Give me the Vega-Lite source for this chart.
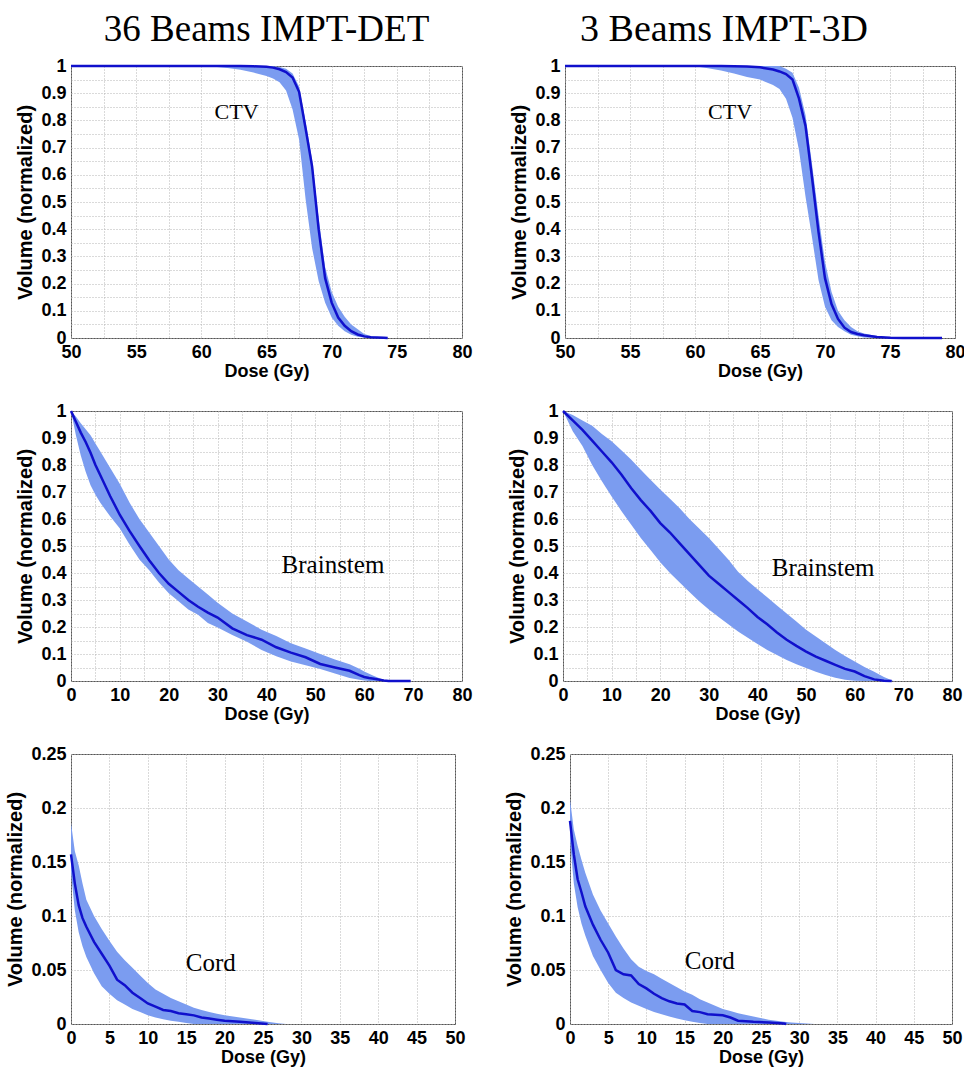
{
  "$schema": "https://vega.github.io/schema/vega-lite/v6.json",
  "background": "white",
  "padding": {"left": 5, "top": 10, "right": 5, "bottom": 2},
  "spacing": 20,
  "config": {
    "view": {"stroke": "#555555", "strokeWidth": 1},
    "axis": {
      "labelFont": "Liberation Sans", "labelFontWeight": "bold", "labelFontSize": 18, "labelColor": "black",
      "titleFont": "Liberation Sans", "titleFontWeight": "bold", "titleFontSize": 18, "titleColor": "black",
      "ticks": false, "domain": false, "grid": true, "gridColor": "#b5b5b5", "gridDash": [1, 2], "gridWidth": 1,
      "labelOverlap": false, "labelBound": false, "labelFlush": false, "labelPadding": 5
    },
    "axisX": {"titlePadding": 1},
    "axisY": {"titlePadding": 5, "titleFontSize": 20},
    "title": {"font": "Liberation Serif", "fontSize": 37, "fontWeight": "normal", "color": "black", "anchor": "middle", "offset": 8}
  },
  "datasets": {
    "ctv36": [
      {"dose": 50, "lo": 1, "mean": 1, "hi": 1},
      {"dose": 55, "lo": 1, "mean": 1, "hi": 1},
      {"dose": 60, "lo": 1, "mean": 1, "hi": 1},
      {"dose": 61, "lo": 0.997, "mean": 1, "hi": 1},
      {"dose": 62, "lo": 0.993, "mean": 1, "hi": 1},
      {"dose": 63, "lo": 0.986, "mean": 1, "hi": 1},
      {"dose": 64, "lo": 0.976, "mean": 0.999, "hi": 1},
      {"dose": 65, "lo": 0.963, "mean": 0.997, "hi": 1},
      {"dose": 65.5, "lo": 0.954, "mean": 0.994, "hi": 0.999},
      {"dose": 66, "lo": 0.94, "mean": 0.988, "hi": 0.996},
      {"dose": 66.5, "lo": 0.91, "mean": 0.978, "hi": 0.99},
      {"dose": 67, "lo": 0.84, "mean": 0.958, "hi": 0.972},
      {"dose": 67.5, "lo": 0.73, "mean": 0.905, "hi": 0.925},
      {"dose": 68, "lo": 0.51, "mean": 0.77, "hi": 0.795},
      {"dose": 68.5, "lo": 0.33, "mean": 0.63, "hi": 0.655},
      {"dose": 69, "lo": 0.21, "mean": 0.4, "hi": 0.44},
      {"dose": 69.5, "lo": 0.13, "mean": 0.22, "hi": 0.26},
      {"dose": 70, "lo": 0.075, "mean": 0.13, "hi": 0.17},
      {"dose": 70.5, "lo": 0.045, "mean": 0.075, "hi": 0.115},
      {"dose": 71, "lo": 0.025, "mean": 0.045, "hi": 0.078},
      {"dose": 71.5, "lo": 0.012, "mean": 0.025, "hi": 0.05},
      {"dose": 72, "lo": 0.005, "mean": 0.013, "hi": 0.032},
      {"dose": 72.5, "lo": 0.002, "mean": 0.006, "hi": 0.015},
      {"dose": 73, "lo": 0, "mean": 0.003, "hi": 0.007},
      {"dose": 74, "lo": 0, "mean": 0.0005, "hi": 0.001},
      {"dose": 74.3, "lo": 0, "mean": 0, "hi": 0}
    ],
    "ctv3": [
      {"dose": 50, "lo": 1, "mean": 1, "hi": 1},
      {"dose": 55, "lo": 1, "mean": 1, "hi": 1},
      {"dose": 60, "lo": 0.999, "mean": 1, "hi": 1},
      {"dose": 61, "lo": 0.992, "mean": 1, "hi": 1},
      {"dose": 62, "lo": 0.983, "mean": 1, "hi": 1},
      {"dose": 63, "lo": 0.972, "mean": 0.999, "hi": 1},
      {"dose": 64, "lo": 0.96, "mean": 0.998, "hi": 1},
      {"dose": 65, "lo": 0.95, "mean": 0.995, "hi": 1},
      {"dose": 66, "lo": 0.93, "mean": 0.987, "hi": 1},
      {"dose": 66.5, "lo": 0.915, "mean": 0.98, "hi": 1},
      {"dose": 67, "lo": 0.88, "mean": 0.97, "hi": 0.99},
      {"dose": 67.5, "lo": 0.81, "mean": 0.95, "hi": 0.975},
      {"dose": 68, "lo": 0.69, "mean": 0.88, "hi": 0.92},
      {"dose": 68.5, "lo": 0.52, "mean": 0.78, "hi": 0.82},
      {"dose": 69, "lo": 0.37, "mean": 0.59, "hi": 0.64},
      {"dose": 69.5, "lo": 0.213, "mean": 0.39, "hi": 0.45},
      {"dose": 70, "lo": 0.115, "mean": 0.22, "hi": 0.28},
      {"dose": 70.5, "lo": 0.065, "mean": 0.125, "hi": 0.17},
      {"dose": 71, "lo": 0.04, "mean": 0.07, "hi": 0.1},
      {"dose": 71.5, "lo": 0.025, "mean": 0.038, "hi": 0.065},
      {"dose": 72, "lo": 0.012, "mean": 0.022, "hi": 0.04},
      {"dose": 72.5, "lo": 0.006, "mean": 0.015, "hi": 0.025},
      {"dose": 73, "lo": 0.002, "mean": 0.01, "hi": 0.017},
      {"dose": 74, "lo": 0, "mean": 0.004, "hi": 0.007},
      {"dose": 75, "lo": 0, "mean": 0.001, "hi": 0.002},
      {"dose": 76, "lo": 0, "mean": 0, "hi": 0},
      {"dose": 79, "lo": 0, "mean": 0, "hi": 0}
    ],
    "bs36": [
      {"dose": 0, "lo": 1, "mean": 1, "hi": 1},
      {"dose": 1, "lo": 0.91, "mean": 0.96, "hi": 0.98},
      {"dose": 2, "lo": 0.835, "mean": 0.92, "hi": 0.955},
      {"dose": 3, "lo": 0.775, "mean": 0.885, "hi": 0.932},
      {"dose": 4, "lo": 0.725, "mean": 0.845, "hi": 0.91},
      {"dose": 5, "lo": 0.69, "mean": 0.8, "hi": 0.88},
      {"dose": 6, "lo": 0.66, "mean": 0.762, "hi": 0.85},
      {"dose": 8, "lo": 0.61, "mean": 0.685, "hi": 0.79},
      {"dose": 10, "lo": 0.565, "mean": 0.615, "hi": 0.73},
      {"dose": 12, "lo": 0.505, "mean": 0.555, "hi": 0.66},
      {"dose": 14, "lo": 0.45, "mean": 0.5, "hi": 0.6},
      {"dose": 16, "lo": 0.41, "mean": 0.447, "hi": 0.55},
      {"dose": 18, "lo": 0.365, "mean": 0.4, "hi": 0.5},
      {"dose": 20, "lo": 0.325, "mean": 0.36, "hi": 0.45},
      {"dose": 22, "lo": 0.295, "mean": 0.33, "hi": 0.41},
      {"dose": 24, "lo": 0.265, "mean": 0.3, "hi": 0.38},
      {"dose": 26, "lo": 0.245, "mean": 0.275, "hi": 0.35},
      {"dose": 28, "lo": 0.215, "mean": 0.253, "hi": 0.32},
      {"dose": 30, "lo": 0.198, "mean": 0.235, "hi": 0.29},
      {"dose": 33, "lo": 0.17, "mean": 0.195, "hi": 0.25},
      {"dose": 36, "lo": 0.145, "mean": 0.17, "hi": 0.22},
      {"dose": 39, "lo": 0.115, "mean": 0.153, "hi": 0.19},
      {"dose": 42, "lo": 0.092, "mean": 0.125, "hi": 0.167},
      {"dose": 45, "lo": 0.072, "mean": 0.105, "hi": 0.14},
      {"dose": 48, "lo": 0.058, "mean": 0.088, "hi": 0.12},
      {"dose": 51, "lo": 0.044, "mean": 0.063, "hi": 0.1},
      {"dose": 54, "lo": 0.028, "mean": 0.05, "hi": 0.08},
      {"dose": 57, "lo": 0.011, "mean": 0.038, "hi": 0.062},
      {"dose": 59, "lo": 0.005, "mean": 0.022, "hi": 0.045},
      {"dose": 60, "lo": 0.002, "mean": 0.015, "hi": 0.035},
      {"dose": 61, "lo": 0, "mean": 0.011, "hi": 0.027},
      {"dose": 62, "lo": 0, "mean": 0.008, "hi": 0.0185},
      {"dose": 64, "lo": 0, "mean": 0.002, "hi": 0.004},
      {"dose": 65, "lo": 0, "mean": 0, "hi": 0},
      {"dose": 69.5, "lo": 0, "mean": 0, "hi": 0}
    ],
    "bs3": [
      {"dose": 0, "lo": 1, "mean": 1, "hi": 1},
      {"dose": 2, "lo": 0.925, "mean": 0.965, "hi": 0.985},
      {"dose": 4, "lo": 0.87, "mean": 0.93, "hi": 0.965},
      {"dose": 6, "lo": 0.8, "mean": 0.89, "hi": 0.945},
      {"dose": 8, "lo": 0.74, "mean": 0.85, "hi": 0.915},
      {"dose": 10, "lo": 0.683, "mean": 0.81, "hi": 0.888},
      {"dose": 12, "lo": 0.63, "mean": 0.765, "hi": 0.855},
      {"dose": 14, "lo": 0.58, "mean": 0.715, "hi": 0.82},
      {"dose": 16, "lo": 0.53, "mean": 0.67, "hi": 0.782},
      {"dose": 18, "lo": 0.485, "mean": 0.63, "hi": 0.745},
      {"dose": 20, "lo": 0.44, "mean": 0.585, "hi": 0.709},
      {"dose": 22, "lo": 0.4, "mean": 0.55, "hi": 0.675},
      {"dose": 24, "lo": 0.365, "mean": 0.51, "hi": 0.64},
      {"dose": 26, "lo": 0.33, "mean": 0.47, "hi": 0.6},
      {"dose": 28, "lo": 0.295, "mean": 0.43, "hi": 0.565},
      {"dose": 30, "lo": 0.265, "mean": 0.39, "hi": 0.53},
      {"dose": 32, "lo": 0.237, "mean": 0.36, "hi": 0.49},
      {"dose": 34, "lo": 0.21, "mean": 0.33, "hi": 0.45},
      {"dose": 36, "lo": 0.183, "mean": 0.3, "hi": 0.405},
      {"dose": 38, "lo": 0.16, "mean": 0.27, "hi": 0.37},
      {"dose": 40, "lo": 0.137, "mean": 0.237, "hi": 0.34},
      {"dose": 42, "lo": 0.115, "mean": 0.21, "hi": 0.31},
      {"dose": 44, "lo": 0.096, "mean": 0.18, "hi": 0.28},
      {"dose": 46, "lo": 0.078, "mean": 0.153, "hi": 0.25},
      {"dose": 48, "lo": 0.062, "mean": 0.13, "hi": 0.22},
      {"dose": 50, "lo": 0.048, "mean": 0.109, "hi": 0.19},
      {"dose": 52, "lo": 0.034, "mean": 0.09, "hi": 0.165},
      {"dose": 54, "lo": 0.022, "mean": 0.075, "hi": 0.14},
      {"dose": 56, "lo": 0.012, "mean": 0.06, "hi": 0.115},
      {"dose": 58, "lo": 0.005, "mean": 0.045, "hi": 0.093},
      {"dose": 60, "lo": 0.001, "mean": 0.035, "hi": 0.072},
      {"dose": 62, "lo": 0, "mean": 0.018, "hi": 0.052},
      {"dose": 64, "lo": 0, "mean": 0.006, "hi": 0.034},
      {"dose": 66, "lo": 0, "mean": 0.001, "hi": 0.015},
      {"dose": 67.6, "lo": 0, "mean": 0, "hi": 0.003},
      {"dose": 68, "lo": 0, "mean": null, "hi": 0}
    ],
    "cord36": [
      {"dose": 0, "lo": 0.14, "mean": 0.157, "hi": 0.186},
      {"dose": 0.5, "lo": 0.105, "mean": 0.13, "hi": 0.16},
      {"dose": 1, "lo": 0.085, "mean": 0.11, "hi": 0.147},
      {"dose": 1.5, "lo": 0.072, "mean": 0.098, "hi": 0.13},
      {"dose": 2, "lo": 0.062, "mean": 0.09, "hi": 0.115},
      {"dose": 3, "lo": 0.047, "mean": 0.076, "hi": 0.1},
      {"dose": 4, "lo": 0.035, "mean": 0.065, "hi": 0.088},
      {"dose": 5, "lo": 0.028, "mean": 0.054, "hi": 0.077},
      {"dose": 6, "lo": 0.022, "mean": 0.041, "hi": 0.067},
      {"dose": 7, "lo": 0.018, "mean": 0.036, "hi": 0.059},
      {"dose": 8, "lo": 0.014, "mean": 0.029, "hi": 0.052},
      {"dose": 9, "lo": 0.011, "mean": 0.024, "hi": 0.045},
      {"dose": 10, "lo": 0.008, "mean": 0.019, "hi": 0.038},
      {"dose": 11, "lo": 0.006, "mean": 0.016, "hi": 0.032},
      {"dose": 12, "lo": 0.0045, "mean": 0.013, "hi": 0.028},
      {"dose": 13, "lo": 0.003, "mean": 0.012, "hi": 0.024},
      {"dose": 14, "lo": 0.002, "mean": 0.01, "hi": 0.021},
      {"dose": 15, "lo": 0.001, "mean": 0.009, "hi": 0.018},
      {"dose": 16, "lo": 0, "mean": 0.008, "hi": 0.015},
      {"dose": 17, "lo": 0, "mean": 0.006, "hi": 0.013},
      {"dose": 18, "lo": 0, "mean": 0.005, "hi": 0.011},
      {"dose": 19, "lo": 0, "mean": 0.004, "hi": 0.0095},
      {"dose": 20, "lo": 0, "mean": 0.003, "hi": 0.008},
      {"dose": 22, "lo": 0, "mean": 0.002, "hi": 0.006},
      {"dose": 24, "lo": 0, "mean": 0.001, "hi": 0.004},
      {"dose": 25.6, "lo": 0, "mean": 0, "hi": 0.002},
      {"dose": 27, "lo": 0, "mean": null, "hi": 0.0008},
      {"dose": 28, "lo": 0, "mean": null, "hi": 0}
    ],
    "cord3": [
      {"dose": 0, "lo": 0.17, "mean": 0.188, "hi": 0.208},
      {"dose": 0.5, "lo": 0.13, "mean": 0.157, "hi": 0.18},
      {"dose": 1, "lo": 0.108, "mean": 0.134, "hi": 0.165},
      {"dose": 1.5, "lo": 0.093, "mean": 0.122, "hi": 0.152},
      {"dose": 2, "lo": 0.082, "mean": 0.109, "hi": 0.14},
      {"dose": 3, "lo": 0.063, "mean": 0.092, "hi": 0.12},
      {"dose": 4, "lo": 0.05, "mean": 0.078, "hi": 0.105},
      {"dose": 5, "lo": 0.038, "mean": 0.066, "hi": 0.093},
      {"dose": 6, "lo": 0.029, "mean": 0.05, "hi": 0.081},
      {"dose": 7, "lo": 0.024, "mean": 0.046, "hi": 0.07},
      {"dose": 8, "lo": 0.02, "mean": 0.045, "hi": 0.06},
      {"dose": 9, "lo": 0.017, "mean": 0.037, "hi": 0.053},
      {"dose": 10, "lo": 0.014, "mean": 0.033, "hi": 0.049},
      {"dose": 11, "lo": 0.011, "mean": 0.028, "hi": 0.046},
      {"dose": 12, "lo": 0.009, "mean": 0.024, "hi": 0.042},
      {"dose": 13, "lo": 0.007, "mean": 0.021, "hi": 0.038},
      {"dose": 14, "lo": 0.005, "mean": 0.019, "hi": 0.034},
      {"dose": 15, "lo": 0.0035, "mean": 0.018, "hi": 0.03},
      {"dose": 16, "lo": 0.002, "mean": 0.012, "hi": 0.027},
      {"dose": 17, "lo": 0.001, "mean": 0.011, "hi": 0.023},
      {"dose": 18, "lo": 0, "mean": 0.009, "hi": 0.02},
      {"dose": 19, "lo": 0, "mean": 0.0085, "hi": 0.017},
      {"dose": 20, "lo": 0, "mean": 0.008, "hi": 0.014},
      {"dose": 21, "lo": 0, "mean": 0.006, "hi": 0.012},
      {"dose": 22, "lo": 0, "mean": 0.003, "hi": 0.01},
      {"dose": 24, "lo": 0, "mean": 0.002, "hi": 0.007},
      {"dose": 26, "lo": 0, "mean": 0.0015, "hi": 0.004},
      {"dose": 28, "lo": 0, "mean": 0.0005, "hi": 0.002},
      {"dose": 28.3, "lo": 0, "mean": 0, "hi": 0.0018},
      {"dose": 29, "lo": 0, "mean": null, "hi": 0.0015},
      {"dose": 31, "lo": 0, "mean": null, "hi": 0.0005},
      {"dose": 32, "lo": 0, "mean": null, "hi": 0}
    ]
  },
  "vconcat": [
    {
      "spacing": 36,
      "hconcat": [
        {
          "title": {"text": "36 Beams IMPT-DET"},
          "width": 391, "height": 272,
          "layer": [
            {
              "data": {"name": "ctv36"},
              "mark": {"type": "area", "color": "#7b9cf0", "opacity": 1},
              "encoding": {
                "x": {"field": "dose", "type": "quantitative", "title": "Dose (Gy)", "scale": {"domain": [50, 80], "nice": false, "zero": false},
                  "axis": {"labelOverlap": false, "values": [50, 52.5, 55, 57.5, 60, 62.5, 65, 67.5, 70, 72.5, 75, 77.5, 80], "labelExpr": "datum.value % 5 == 0 ? '' + datum.value : ''"}},
                "y": {"field": "lo", "type": "quantitative", "title": "Volume (normalized)", "scale": {"domain": [0, 1], "nice": false},
                  "axis": {"labelOverlap": false, "values": [0, 0.05, 0.1, 0.15, 0.2, 0.25, 0.3, 0.35, 0.4, 0.45, 0.5, 0.55, 0.6, 0.65, 0.7, 0.75, 0.8, 0.85, 0.9, 0.95, 1], "labelExpr": "round(datum.value * 100) % 10 == 0 ? format(datum.value, '~g') : ''"}},
                "y2": {"field": "hi"}
              }
            },
            {
              "data": {"name": "ctv36"},
              "mark": {"type": "line", "color": "#1010cc", "strokeWidth": 2.5},
              "encoding": {
                "x": {"field": "dose", "type": "quantitative", "title": "Dose (Gy)", "scale": {"domain": [50, 80], "nice": false, "zero": false},
                  "axis": {"labelOverlap": false, "values": [50, 52.5, 55, 57.5, 60, 62.5, 65, 67.5, 70, 72.5, 75, 77.5, 80], "labelExpr": "datum.value % 5 == 0 ? '' + datum.value : ''"}},
                "y": {"field": "mean", "type": "quantitative", "title": "Volume (normalized)", "scale": {"domain": [0, 1], "nice": false},
                  "axis": {"labelOverlap": false, "values": [0, 0.05, 0.1, 0.15, 0.2, 0.25, 0.3, 0.35, 0.4, 0.45, 0.5, 0.55, 0.6, 0.65, 0.7, 0.75, 0.8, 0.85, 0.9, 0.95, 1], "labelExpr": "round(datum.value * 100) % 10 == 0 ? format(datum.value, '~g') : ''"}}
              }
            },
            {
              "data": {"values": [{"label": "CTV", "x": 62.7, "y": 0.83}]},
              "mark": {"type": "text", "font": "Liberation Serif", "fontSize": 22, "color": "black", "align": "center", "baseline": "middle"},
              "encoding": {
                "x": {"field": "x", "type": "quantitative", "title": "Dose (Gy)", "scale": {"domain": [50, 80], "nice": false, "zero": false},
                  "axis": {"labelOverlap": false, "values": [50, 52.5, 55, 57.5, 60, 62.5, 65, 67.5, 70, 72.5, 75, 77.5, 80], "labelExpr": "datum.value % 5 == 0 ? '' + datum.value : ''"}},
                "y": {"field": "y", "type": "quantitative", "title": "Volume (normalized)", "scale": {"domain": [0, 1], "nice": false},
                  "axis": {"labelOverlap": false, "values": [0, 0.05, 0.1, 0.15, 0.2, 0.25, 0.3, 0.35, 0.4, 0.45, 0.5, 0.55, 0.6, 0.65, 0.7, 0.75, 0.8, 0.85, 0.9, 0.95, 1], "labelExpr": "round(datum.value * 100) % 10 == 0 ? format(datum.value, '~g') : ''"}},
                "text": {"field": "label"}
              }
            }
          ]
        },
        {
          "title": {"text": "3 Beams IMPT-3D", "dx": -36, "fontSize": 38},
          "width": 390, "height": 272,
          "layer": [
            {
              "data": {"name": "ctv3"},
              "mark": {"type": "area", "color": "#7b9cf0", "opacity": 1},
              "encoding": {
                "x": {"field": "dose", "type": "quantitative", "title": "Dose (Gy)", "scale": {"domain": [50, 80], "nice": false, "zero": false},
                  "axis": {"labelOverlap": false, "values": [50, 52.5, 55, 57.5, 60, 62.5, 65, 67.5, 70, 72.5, 75, 77.5, 80], "labelExpr": "datum.value % 5 == 0 ? '' + datum.value : ''"}},
                "y": {"field": "lo", "type": "quantitative", "title": "Volume (normalized)", "scale": {"domain": [0, 1], "nice": false},
                  "axis": {"labelOverlap": false, "values": [0, 0.05, 0.1, 0.15, 0.2, 0.25, 0.3, 0.35, 0.4, 0.45, 0.5, 0.55, 0.6, 0.65, 0.7, 0.75, 0.8, 0.85, 0.9, 0.95, 1], "labelExpr": "round(datum.value * 100) % 10 == 0 ? format(datum.value, '~g') : ''"}},
                "y2": {"field": "hi"}
              }
            },
            {
              "data": {"name": "ctv3"},
              "mark": {"type": "line", "color": "#1010cc", "strokeWidth": 2.5},
              "encoding": {
                "x": {"field": "dose", "type": "quantitative", "title": "Dose (Gy)", "scale": {"domain": [50, 80], "nice": false, "zero": false},
                  "axis": {"labelOverlap": false, "values": [50, 52.5, 55, 57.5, 60, 62.5, 65, 67.5, 70, 72.5, 75, 77.5, 80], "labelExpr": "datum.value % 5 == 0 ? '' + datum.value : ''"}},
                "y": {"field": "mean", "type": "quantitative", "title": "Volume (normalized)", "scale": {"domain": [0, 1], "nice": false},
                  "axis": {"labelOverlap": false, "values": [0, 0.05, 0.1, 0.15, 0.2, 0.25, 0.3, 0.35, 0.4, 0.45, 0.5, 0.55, 0.6, 0.65, 0.7, 0.75, 0.8, 0.85, 0.9, 0.95, 1], "labelExpr": "round(datum.value * 100) % 10 == 0 ? format(datum.value, '~g') : ''"}}
              }
            },
            {
              "data": {"values": [{"label": "CTV", "x": 62.7, "y": 0.83}]},
              "mark": {"type": "text", "font": "Liberation Serif", "fontSize": 22, "color": "black", "align": "center", "baseline": "middle"},
              "encoding": {
                "x": {"field": "x", "type": "quantitative", "title": "Dose (Gy)", "scale": {"domain": [50, 80], "nice": false, "zero": false},
                  "axis": {"labelOverlap": false, "values": [50, 52.5, 55, 57.5, 60, 62.5, 65, 67.5, 70, 72.5, 75, 77.5, 80], "labelExpr": "datum.value % 5 == 0 ? '' + datum.value : ''"}},
                "y": {"field": "y", "type": "quantitative", "title": "Volume (normalized)", "scale": {"domain": [0, 1], "nice": false},
                  "axis": {"labelOverlap": false, "values": [0, 0.05, 0.1, 0.15, 0.2, 0.25, 0.3, 0.35, 0.4, 0.45, 0.5, 0.55, 0.6, 0.65, 0.7, 0.75, 0.8, 0.85, 0.9, 0.95, 1], "labelExpr": "round(datum.value * 100) % 10 == 0 ? format(datum.value, '~g') : ''"}},
                "text": {"field": "label"}
              }
            }
          ]
        }
      ]
    },
    {
      "spacing": 34,
      "hconcat": [
        {
          "width": 391, "height": 270,
          "layer": [
            {
              "data": {"name": "bs36"},
              "mark": {"type": "area", "color": "#7b9cf0", "opacity": 1},
              "encoding": {
                "x": {"field": "dose", "type": "quantitative", "title": "Dose (Gy)", "scale": {"domain": [0, 80], "nice": false},
                  "axis": {"labelOverlap": false, "values": [0, 5, 10, 15, 20, 25, 30, 35, 40, 45, 50, 55, 60, 65, 70, 75, 80], "labelExpr": "datum.value % 10 == 0 ? '' + datum.value : ''"}},
                "y": {"field": "lo", "type": "quantitative", "title": "Volume (normalized)", "scale": {"domain": [0, 1], "nice": false},
                  "axis": {"labelOverlap": false, "values": [0, 0.05, 0.1, 0.15, 0.2, 0.25, 0.3, 0.35, 0.4, 0.45, 0.5, 0.55, 0.6, 0.65, 0.7, 0.75, 0.8, 0.85, 0.9, 0.95, 1], "labelExpr": "round(datum.value * 100) % 10 == 0 ? format(datum.value, '~g') : ''"}},
                "y2": {"field": "hi"}
              }
            },
            {
              "data": {"name": "bs36"},
              "mark": {"type": "line", "color": "#1010cc", "strokeWidth": 2.5},
              "encoding": {
                "x": {"field": "dose", "type": "quantitative", "title": "Dose (Gy)", "scale": {"domain": [0, 80], "nice": false},
                  "axis": {"labelOverlap": false, "values": [0, 5, 10, 15, 20, 25, 30, 35, 40, 45, 50, 55, 60, 65, 70, 75, 80], "labelExpr": "datum.value % 10 == 0 ? '' + datum.value : ''"}},
                "y": {"field": "mean", "type": "quantitative", "title": "Volume (normalized)", "scale": {"domain": [0, 1], "nice": false},
                  "axis": {"labelOverlap": false, "values": [0, 0.05, 0.1, 0.15, 0.2, 0.25, 0.3, 0.35, 0.4, 0.45, 0.5, 0.55, 0.6, 0.65, 0.7, 0.75, 0.8, 0.85, 0.9, 0.95, 1], "labelExpr": "round(datum.value * 100) % 10 == 0 ? format(datum.value, '~g') : ''"}}
              }
            },
            {
              "data": {"values": [{"label": "Brainstem", "x": 53.6, "y": 0.43}]},
              "mark": {"type": "text", "font": "Liberation Serif", "fontSize": 25, "color": "black", "align": "center", "baseline": "middle"},
              "encoding": {
                "x": {"field": "x", "type": "quantitative", "title": "Dose (Gy)", "scale": {"domain": [0, 80], "nice": false},
                  "axis": {"labelOverlap": false, "values": [0, 5, 10, 15, 20, 25, 30, 35, 40, 45, 50, 55, 60, 65, 70, 75, 80], "labelExpr": "datum.value % 10 == 0 ? '' + datum.value : ''"}},
                "y": {"field": "y", "type": "quantitative", "title": "Volume (normalized)", "scale": {"domain": [0, 1], "nice": false},
                  "axis": {"labelOverlap": false, "values": [0, 0.05, 0.1, 0.15, 0.2, 0.25, 0.3, 0.35, 0.4, 0.45, 0.5, 0.55, 0.6, 0.65, 0.7, 0.75, 0.8, 0.85, 0.9, 0.95, 1], "labelExpr": "round(datum.value * 100) % 10 == 0 ? format(datum.value, '~g') : ''"}},
                "text": {"field": "label"}
              }
            }
          ]
        },
        {
          "width": 389, "height": 270,
          "layer": [
            {
              "data": {"name": "bs3"},
              "mark": {"type": "area", "color": "#7b9cf0", "opacity": 1},
              "encoding": {
                "x": {"field": "dose", "type": "quantitative", "title": "Dose (Gy)", "scale": {"domain": [0, 80], "nice": false},
                  "axis": {"labelOverlap": false, "values": [0, 5, 10, 15, 20, 25, 30, 35, 40, 45, 50, 55, 60, 65, 70, 75, 80], "labelExpr": "datum.value % 10 == 0 ? '' + datum.value : ''"}},
                "y": {"field": "lo", "type": "quantitative", "title": "Volume (normalized)", "scale": {"domain": [0, 1], "nice": false},
                  "axis": {"labelOverlap": false, "values": [0, 0.05, 0.1, 0.15, 0.2, 0.25, 0.3, 0.35, 0.4, 0.45, 0.5, 0.55, 0.6, 0.65, 0.7, 0.75, 0.8, 0.85, 0.9, 0.95, 1], "labelExpr": "round(datum.value * 100) % 10 == 0 ? format(datum.value, '~g') : ''"}},
                "y2": {"field": "hi"}
              }
            },
            {
              "data": {"name": "bs3"},
              "mark": {"type": "line", "color": "#1010cc", "strokeWidth": 2.5},
              "encoding": {
                "x": {"field": "dose", "type": "quantitative", "title": "Dose (Gy)", "scale": {"domain": [0, 80], "nice": false},
                  "axis": {"labelOverlap": false, "values": [0, 5, 10, 15, 20, 25, 30, 35, 40, 45, 50, 55, 60, 65, 70, 75, 80], "labelExpr": "datum.value % 10 == 0 ? '' + datum.value : ''"}},
                "y": {"field": "mean", "type": "quantitative", "title": "Volume (normalized)", "scale": {"domain": [0, 1], "nice": false},
                  "axis": {"labelOverlap": false, "values": [0, 0.05, 0.1, 0.15, 0.2, 0.25, 0.3, 0.35, 0.4, 0.45, 0.5, 0.55, 0.6, 0.65, 0.7, 0.75, 0.8, 0.85, 0.9, 0.95, 1], "labelExpr": "round(datum.value * 100) % 10 == 0 ? format(datum.value, '~g') : ''"}}
              }
            },
            {
              "data": {"values": [{"label": "Brainstem", "x": 53.5, "y": 0.42}]},
              "mark": {"type": "text", "font": "Liberation Serif", "fontSize": 25, "color": "black", "align": "center", "baseline": "middle"},
              "encoding": {
                "x": {"field": "x", "type": "quantitative", "title": "Dose (Gy)", "scale": {"domain": [0, 80], "nice": false},
                  "axis": {"labelOverlap": false, "values": [0, 5, 10, 15, 20, 25, 30, 35, 40, 45, 50, 55, 60, 65, 70, 75, 80], "labelExpr": "datum.value % 10 == 0 ? '' + datum.value : ''"}},
                "y": {"field": "y", "type": "quantitative", "title": "Volume (normalized)", "scale": {"domain": [0, 1], "nice": false},
                  "axis": {"labelOverlap": false, "values": [0, 0.05, 0.1, 0.15, 0.2, 0.25, 0.3, 0.35, 0.4, 0.45, 0.5, 0.55, 0.6, 0.65, 0.7, 0.75, 0.8, 0.85, 0.9, 0.95, 1], "labelExpr": "round(datum.value * 100) % 10 == 0 ? format(datum.value, '~g') : ''"}},
                "text": {"field": "label"}
              }
            }
          ]
        }
      ]
    },
    {
      "spacing": 38,
      "hconcat": [
        {
          "width": 384, "height": 270,
          "layer": [
            {
              "data": {"name": "cord36"},
              "mark": {"type": "area", "color": "#7b9cf0", "opacity": 1},
              "encoding": {
                "x": {"field": "dose", "type": "quantitative", "title": "Dose (Gy)", "scale": {"domain": [0, 50], "nice": false},
                  "axis": {"labelOverlap": false, "values": [0, 5, 10, 15, 20, 25, 30, 35, 40, 45, 50], "labelExpr": "'' + datum.value"}},
                "y": {"field": "lo", "type": "quantitative", "title": "Volume (normalized)", "scale": {"domain": [0, 0.25], "nice": false},
                  "axis": {"labelOverlap": false, "values": [0, 0.05, 0.1, 0.15, 0.2, 0.25], "labelExpr": "format(datum.value, '~g')"}},
                "y2": {"field": "hi"}
              }
            },
            {
              "data": {"name": "cord36"},
              "mark": {"type": "line", "color": "#1010cc", "strokeWidth": 2.5},
              "encoding": {
                "x": {"field": "dose", "type": "quantitative", "title": "Dose (Gy)", "scale": {"domain": [0, 50], "nice": false},
                  "axis": {"labelOverlap": false, "values": [0, 5, 10, 15, 20, 25, 30, 35, 40, 45, 50], "labelExpr": "'' + datum.value"}},
                "y": {"field": "mean", "type": "quantitative", "title": "Volume (normalized)", "scale": {"domain": [0, 0.25], "nice": false},
                  "axis": {"labelOverlap": false, "values": [0, 0.05, 0.1, 0.15, 0.2, 0.25], "labelExpr": "format(datum.value, '~g')"}}
              }
            },
            {
              "data": {"values": [{"label": "Cord", "x": 18.2, "y": 0.0565}]},
              "mark": {"type": "text", "font": "Liberation Serif", "fontSize": 25, "color": "black", "align": "center", "baseline": "middle"},
              "encoding": {
                "x": {"field": "x", "type": "quantitative", "title": "Dose (Gy)", "scale": {"domain": [0, 50], "nice": false},
                  "axis": {"labelOverlap": false, "values": [0, 5, 10, 15, 20, 25, 30, 35, 40, 45, 50], "labelExpr": "'' + datum.value"}},
                "y": {"field": "y", "type": "quantitative", "title": "Volume (normalized)", "scale": {"domain": [0, 0.25], "nice": false},
                  "axis": {"labelOverlap": false, "values": [0, 0.05, 0.1, 0.15, 0.2, 0.25], "labelExpr": "format(datum.value, '~g')"}},
                "text": {"field": "label"}
              }
            }
          ]
        },
        {
          "width": 382, "height": 270,
          "layer": [
            {
              "data": {"name": "cord3"},
              "mark": {"type": "area", "color": "#7b9cf0", "opacity": 1},
              "encoding": {
                "x": {"field": "dose", "type": "quantitative", "title": "Dose (Gy)", "scale": {"domain": [0, 50], "nice": false},
                  "axis": {"labelOverlap": false, "values": [0, 5, 10, 15, 20, 25, 30, 35, 40, 45, 50], "labelExpr": "'' + datum.value"}},
                "y": {"field": "lo", "type": "quantitative", "title": "Volume (normalized)", "scale": {"domain": [0, 0.25], "nice": false},
                  "axis": {"labelOverlap": false, "values": [0, 0.05, 0.1, 0.15, 0.2, 0.25], "labelExpr": "format(datum.value, '~g')"}},
                "y2": {"field": "hi"}
              }
            },
            {
              "data": {"name": "cord3"},
              "mark": {"type": "line", "color": "#1010cc", "strokeWidth": 2.5},
              "encoding": {
                "x": {"field": "dose", "type": "quantitative", "title": "Dose (Gy)", "scale": {"domain": [0, 50], "nice": false},
                  "axis": {"labelOverlap": false, "values": [0, 5, 10, 15, 20, 25, 30, 35, 40, 45, 50], "labelExpr": "'' + datum.value"}},
                "y": {"field": "mean", "type": "quantitative", "title": "Volume (normalized)", "scale": {"domain": [0, 0.25], "nice": false},
                  "axis": {"labelOverlap": false, "values": [0, 0.05, 0.1, 0.15, 0.2, 0.25], "labelExpr": "format(datum.value, '~g')"}}
              }
            },
            {
              "data": {"values": [{"label": "Cord", "x": 18.3, "y": 0.058}]},
              "mark": {"type": "text", "font": "Liberation Serif", "fontSize": 25, "color": "black", "align": "center", "baseline": "middle"},
              "encoding": {
                "x": {"field": "x", "type": "quantitative", "title": "Dose (Gy)", "scale": {"domain": [0, 50], "nice": false},
                  "axis": {"labelOverlap": false, "values": [0, 5, 10, 15, 20, 25, 30, 35, 40, 45, 50], "labelExpr": "'' + datum.value"}},
                "y": {"field": "y", "type": "quantitative", "title": "Volume (normalized)", "scale": {"domain": [0, 0.25], "nice": false},
                  "axis": {"labelOverlap": false, "values": [0, 0.05, 0.1, 0.15, 0.2, 0.25], "labelExpr": "format(datum.value, '~g')"}},
                "text": {"field": "label"}
              }
            }
          ]
        }
      ]
    }
  ]
}
